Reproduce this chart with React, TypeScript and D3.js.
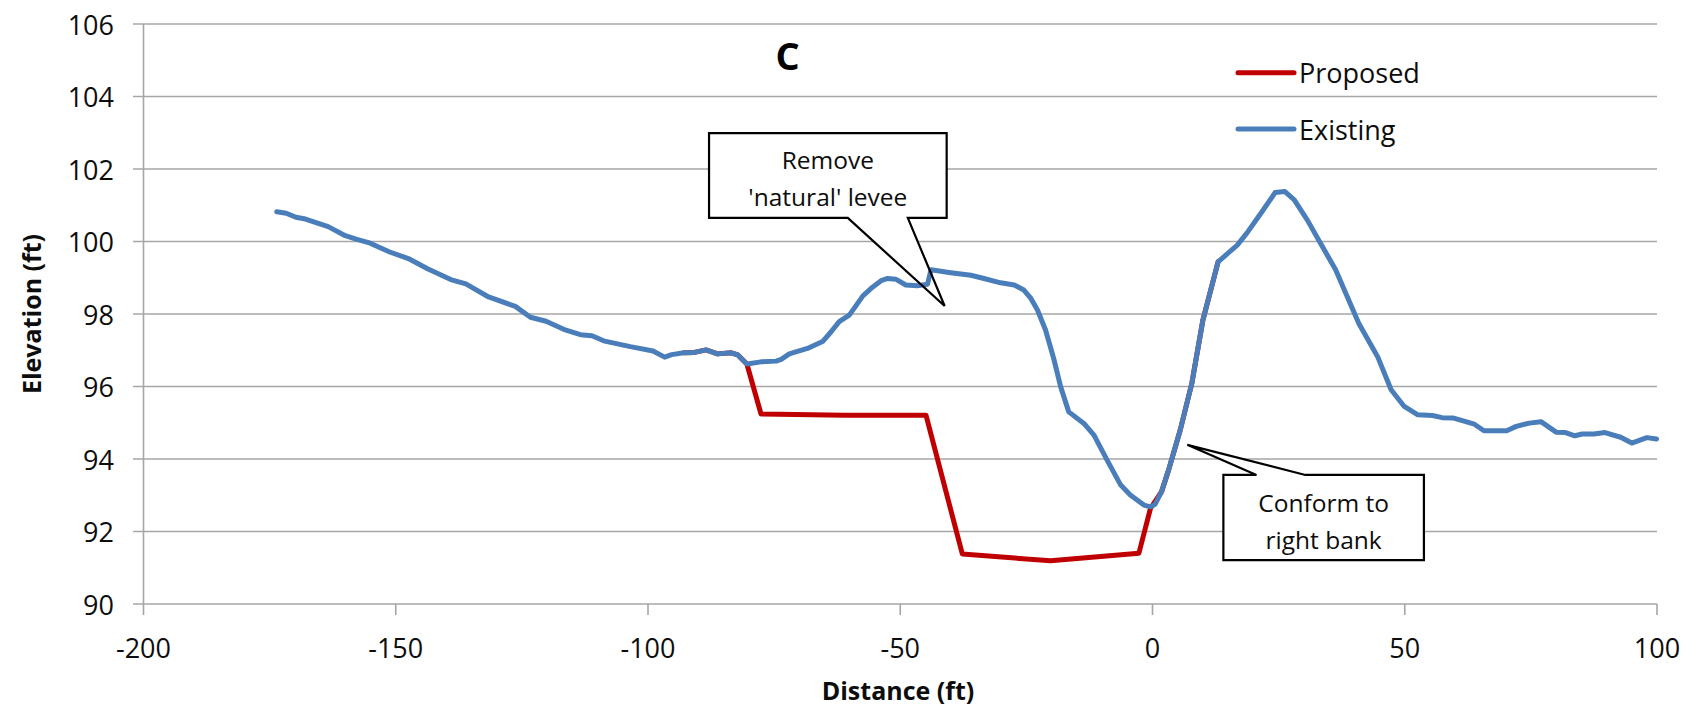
import React from "react";
import * as d3 from "d3";

const W = 1696;
const H = 715;

const xTicks = [-200, -150, -100, -50, 0, 50, 100];
const yTicks = [90, 92, 94, 96, 98, 100, 102, 104, 106];

const existingX = [
  -173.6, -171.7, -169.8, -167.9, -163.4, -160.0, -157.7, -155.4, -151.2, -147.5,
  -143.7, -139.1, -136.1, -131.6, -126.3, -123.3, -120.2, -116.4, -113.4, -111.1,
  -108.8, -103.5, -99.0, -96.7, -95.3, -92.9, -90.8, -88.5, -86.2, -83.5,
  -82.2, -80.4, -77.6, -74.6, -73.6, -72.0, -68.4, -65.4, -63.7, -62.1,
  -60.1, -57.4, -55.5, -53.8, -52.5, -50.9, -48.9, -46.6, -44.6, -43.9,
  -40.0, -36.0, -33.4, -30.1, -27.4, -25.5, -24.1, -22.8, -21.2, -19.5,
  -18.2, -16.6, -13.6, -11.6, -9.0, -6.3, -4.4, -1.7, -0.4, 0.5,
  1.8, 3.2, 5.5, 7.8, 10.0, 13.0, 16.8, 18.7, 21.7, 24.3,
  26.2, 28.1, 30.7, 33.3, 36.3, 40.9, 44.6, 47.3, 49.9, 52.6,
  55.5, 57.4, 59.7, 63.8, 65.7, 70.2, 72.1, 74.7, 77.0, 80.0,
  81.9, 83.7, 85.2, 87.5, 89.7, 92.8, 95.0, 98.0, 99.9,
];
const existingY = [
  100.82, 100.78, 100.67, 100.62, 100.41, 100.16, 100.06, 99.97, 99.71, 99.53,
  99.25, 98.95, 98.83, 98.47, 98.21, 97.91, 97.80, 97.56, 97.43, 97.40,
  97.26, 97.10, 96.98, 96.81, 96.88, 96.93, 96.94, 97.01, 96.90, 96.93,
  96.87, 96.62, 96.68, 96.70, 96.75, 96.90, 97.05, 97.24, 97.51, 97.79,
  97.97, 98.50, 98.74, 98.92, 98.98, 98.96, 98.80, 98.78, 98.82, 99.22,
  99.14, 99.07, 98.98, 98.86, 98.80, 98.66, 98.43, 98.11, 97.56, 96.73,
  95.99, 95.30, 94.98, 94.66, 93.97, 93.28, 93.01, 92.73, 92.68, 92.75,
  93.10, 93.70, 94.80, 96.09, 97.84, 99.44, 99.90, 100.23, 100.82, 101.35,
  101.38, 101.15, 100.59, 99.95, 99.22, 97.74, 96.83, 95.91, 95.45, 95.22,
  95.20, 95.14, 95.13, 94.96, 94.78, 94.78, 94.90, 94.99, 95.03, 94.74,
  94.73, 94.64, 94.69, 94.69, 94.73, 94.60, 94.44, 94.59, 94.55,
];

const proposedX = [
  -92.9, -90.8, -88.5, -86.2, -83.5, -82.2, -80.4, -77.6, -61.1, -44.9,
  -37.7, -20.2, -2.7, -0.4, 1.8, 3.2, 5.5, 7.8, 10.0, 13.0,
];
const proposedY = [
  96.93, 96.94, 97.01, 96.90, 96.93, 96.87, 96.62, 95.24, 95.21, 95.21,
  91.38, 91.19, 91.40, 92.64, 93.10, 93.70, 94.80, 96.09, 97.84, 99.44,
];

const seriesNames = ["Proposed", "Existing"];
const seriesColors = ["#C00000", "#4A7EBB"];

// callouts in data coordinates: box [x0, x1, yTop, yBottom], wedge base x's, tip [x, y]
const callout1Lines = ["Remove", "'natural' levee"];
const callout1Box = [-87.9, -40.8, 102.99, 100.65];
const callout1Base = [-60.4, -48.5];
const callout1Tip = [-41.2, 98.22];

const callout2Lines = ["Conform to", "right bank"];
const callout2Box = [14.05, 53.8, 93.56, 91.21];
const callout2Base = [20.6, 30.3];
const callout2Tip = [6.9, 94.39];

const FONT = "'Open Sans', 'Noto Sans', sans-serif";

export default function App() {
  const x = d3.scaleLinear().domain([-200, 100]).range([143.5, 1657]);
  const y = d3.scaleLinear().domain([90, 106]).range([604, 24]);

  const existing = existingX.map((v, i) => [v, existingY[i]] as [number, number]);
  const proposed = proposedX.map((v, i) => [v, proposedY[i]] as [number, number]);

  const line = d3
    .line<[number, number]>()
    .x((d) => x(d[0]))
    .y((d) => y(d[1]));

  const gridColor = "#a6a6a6";

  const c1x0 = x(callout1Box[0]);
  const c1x1 = x(callout1Box[1]);
  const c1y0 = y(callout1Box[2]);
  const c1y1 = y(callout1Box[3]);
  const c1Path = `M${c1x0},${c1y0}H${c1x1}V${c1y1}H${x(callout1Base[1])}L${x(
    callout1Tip[0]
  )},${y(callout1Tip[1])}L${x(callout1Base[0])},${c1y1}H${c1x0}Z`;

  const c2x0 = x(callout2Box[0]);
  const c2x1 = x(callout2Box[1]);
  const c2y0 = y(callout2Box[2]);
  const c2y1 = y(callout2Box[3]);
  const c2Path = `M${c2x0},${c2y0}H${x(callout2Base[0])}L${x(callout2Tip[0])},${y(
    callout2Tip[1]
  )}L${x(callout2Base[1])},${c2y0}H${c2x1}V${c2y1}H${c2x0}Z`;

  const legendX0 = 1238;
  const legendX1 = 1294;
  const legendY = [72.7, 129];

  return (
    <svg
      width={W}
      height={H}
      viewBox={`0 0 ${W} ${H}`}
      style={{ position: "absolute", left: 0, top: 0, background: "#fff" }}
    >
      <rect x={0} y={0} width={W} height={H} fill="#fff" />
      {yTicks.map((t) => (
        <line
          key={"g" + t}
          x1={133}
          x2={1657}
          y1={y(t)}
          y2={y(t)}
          stroke={gridColor}
          strokeWidth={1.6}
        />
      ))}
      <line x1={x(-200)} x2={x(-200)} y1={y(106)} y2={y(90)} stroke={gridColor} strokeWidth={1.6} />
      {xTicks.map((t) => (
        <line
          key={"xt" + t}
          x1={x(t)}
          x2={x(t)}
          y1={y(90)}
          y2={y(90) + 11}
          stroke={gridColor}
          strokeWidth={1.6}
        />
      ))}
      {yTicks.map((t) => (
        <text
          key={"yl" + t}
          x={114}
          y={y(t)}
          textAnchor="end"
          dominantBaseline="central"
          fontFamily={FONT}
          fontSize={27}
          fill="#0d0d0d"
        >
          {t}
        </text>
      ))}
      {xTicks.map((t) => (
        <text
          key={"xl" + t}
          x={x(t)}
          y={647}
          textAnchor="middle"
          dominantBaseline="central"
          fontFamily={FONT}
          fontSize={27}
          fill="#0d0d0d"
        >
          {t}
        </text>
      ))}
      <text
        x={898}
        y={690}
        textAnchor="middle"
        dominantBaseline="central"
        fontFamily={FONT}
        fontWeight="bold"
        fontSize={25}
        fill="#0d0d0d"
      >
        Distance (ft)
      </text>
      <text
        transform={`translate(31,314) rotate(-90)`}
        textAnchor="middle"
        dominantBaseline="central"
        fontFamily={FONT}
        fontWeight="bold"
        fontSize={25}
        fill="#0d0d0d"
      >
        Elevation (ft)
      </text>
      <text
        x={787.5}
        y={55}
        textAnchor="middle"
        dominantBaseline="central"
        fontFamily={FONT}
        fontWeight="bold"
        fontSize={38}
        fill="#000"
      >
        C
      </text>

      <path d={c1Path} fill="#fff" stroke="none" />
      <path d={c2Path} fill="#fff" stroke="none" />

      <path
        d={line(proposed) || ""}
        fill="none"
        stroke={seriesColors[0]}
        strokeWidth={5}
        strokeLinejoin="round"
        strokeLinecap="round"
      />
      <path
        d={line(existing) || ""}
        fill="none"
        stroke={seriesColors[1]}
        strokeWidth={5}
        strokeLinejoin="round"
        strokeLinecap="round"
      />

      <path d={c1Path} fill="none" stroke="#000" strokeWidth={2.2} strokeLinejoin="miter" />
      <path d={c2Path} fill="none" stroke="#000" strokeWidth={2.2} strokeLinejoin="miter" />
      {callout1Lines.map((s, i) => (
        <text
          key={"c1" + i}
          x={(c1x0 + c1x1) / 2}
          y={c1y0 + 26 + i * 37}
          textAnchor="middle"
          dominantBaseline="central"
          fontFamily={FONT}
          fontSize={24.5}
          fill="#0d0d0d"
        >
          {s}
        </text>
      ))}
      {callout2Lines.map((s, i) => (
        <text
          key={"c2" + i}
          x={(c2x0 + c2x1) / 2}
          y={c2y0 + 28 + i * 37}
          textAnchor="middle"
          dominantBaseline="central"
          fontFamily={FONT}
          fontSize={24.5}
          fill="#0d0d0d"
        >
          {s}
        </text>
      ))}

      {seriesNames.map((n, i) => (
        <g key={"lg" + n}>
          <line
            x1={legendX0}
            x2={legendX1}
            y1={legendY[i]}
            y2={legendY[i]}
            stroke={seriesColors[i]}
            strokeWidth={5}
            strokeLinecap="round"
          />
          <text
            x={legendX1 + 5}
            y={legendY[i]}
            dominantBaseline="central"
            fontFamily={FONT}
            fontSize={27}
            fill="#0d0d0d"
          >
            {n}
          </text>
        </g>
      ))}
    </svg>
  );
}
